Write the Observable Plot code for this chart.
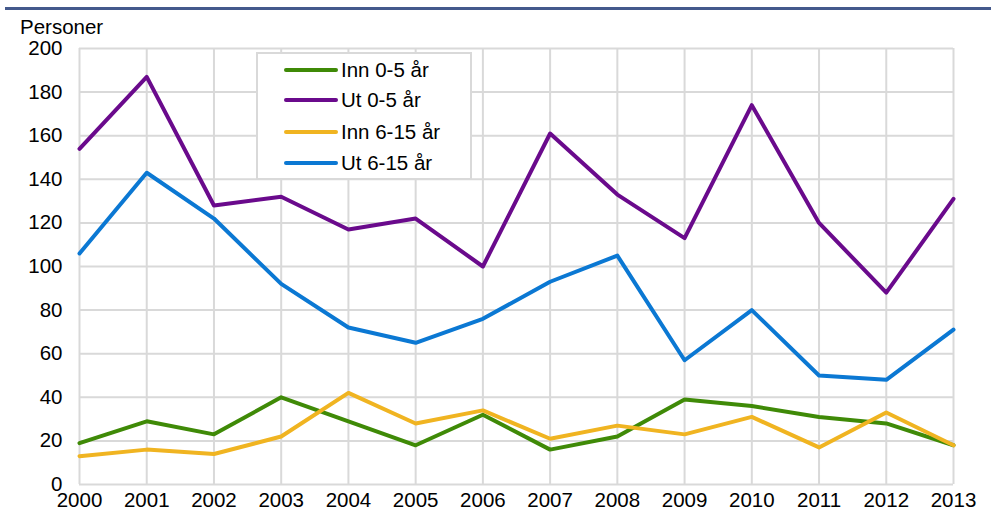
<!DOCTYPE html>
<html>
<head>
<meta charset="utf-8">
<script src="https://cdn.jsdelivr.net/npm/d3@7"></script>
<script src="https://cdn.jsdelivr.net/npm/@observablehq/plot@0.6"></script>
<style>
  html, body { margin: 0; padding: 0; background: #fff; }
  #wrap { position: relative; width: 991px; height: 511px; overflow: hidden; font-family: "Liberation Sans", Arial, sans-serif; }
  #rule { position: absolute; left: 5px; right: 0; top: 7px; height: 3px; background: #44598c; }
  #unit { position: absolute; left: 20px; top: 15px; font-size: 20.5px; color: #000; }
  #legend { position: absolute; left: 256px; top: 52px; width: 212px; height: 124px; border: 2px solid #d9d9d9; background: #fff; }
  .item { position: absolute; left: 0; height: 24px; display: flex; align-items: center; font-size: 20.5px; color: #000; }
  .swatch { width: 54px; height: 4px; border-radius: 2px; margin-left: 26px; margin-right: 3px; }
</style>
</head>
<body>
<div id="wrap">
  <div id="rule"></div>
  <div id="unit">Personer</div>
  <div id="chart"></div>
  <div id="legend"></div>
</div>
<script>
const years = [2000,2001,2002,2003,2004,2005,2006,2007,2008,2009,2010,2011,2012,2013];
const seriesNames = ["Inn 0-5 år", "Ut 0-5 år", "Inn 6-15 år", "Ut 6-15 år"];
const seriesColors = ["#3f8a07", "#6a0a8c", "#f0b421", "#0b78d3"];
const inn05  = [19, 29, 23, 40, 29, 18, 32, 16, 22, 39, 36, 31, 28, 18];
const ut05   = [154, 187, 128, 132, 117, 122, 100, 161, 133, 113, 174, 120, 88, 131];
const inn615 = [13, 16, 14, 22, 42, 28, 34, 21, 27, 23, 31, 17, 33, 18];
const ut615  = [106, 143, 122, 92, 72, 65, 76, 93, 105, 57, 80, 50, 48, 71];
const yTicks = [0, 20, 40, 60, 80, 100, 120, 140, 160, 180, 200];

const seriesValues = [inn05, ut05, inn615, ut615];
const table = [];
seriesNames.forEach((name, i) => {
  years.forEach((yr, j) => table.push({series: name, year: yr, value: seriesValues[i][j]}));
});

const chart = Plot.plot({
  width: 991,
  height: 511,
  marginLeft: 79,
  marginRight: 38,
  marginTop: 48,
  marginBottom: 27,
  style: { fontFamily: "'Liberation Sans', Arial, sans-serif", fontSize: "20.5px", color: "#000", background: "#fff" },
  x: { domain: [2000, 2013], type: "linear" },
  y: { domain: [0, 200] },
  color: { domain: seriesNames, range: seriesColors },
  marks: [
    Plot.gridY(yTicks, { stroke: "#d9d9d9", strokeOpacity: 1, strokeWidth: 2 }),
    Plot.gridX(years, { stroke: "#d9d9d9", strokeOpacity: 1, strokeWidth: 2 }),
    Plot.axisY({ ticks: yTicks, tickSize: 0, tickPadding: 17, label: null, fill: "#000" }),
    Plot.axisX({ ticks: years, tickSize: 0, tickPadding: 8, tickFormat: d => String(d), label: null, fill: "#000" }),
    Plot.line(table, { x: "year", y: "value", z: "series", stroke: "series", strokeWidth: 4, strokeLinecap: "round", strokeLinejoin: "round" })
  ]
});
document.getElementById("chart").appendChild(chart);

const legend = document.getElementById("legend");
const tops = [4, 34, 66, 97];
seriesNames.forEach((name, i) => {
  const item = document.createElement("div");
  item.className = "item";
  item.style.top = tops[i] + "px";
  const sw = document.createElement("div");
  sw.className = "swatch";
  sw.style.background = seriesColors[i];
  const tx = document.createElement("span");
  tx.textContent = name;
  item.appendChild(sw);
  item.appendChild(tx);
  legend.appendChild(item);
});
</script>
</body>
</html>
